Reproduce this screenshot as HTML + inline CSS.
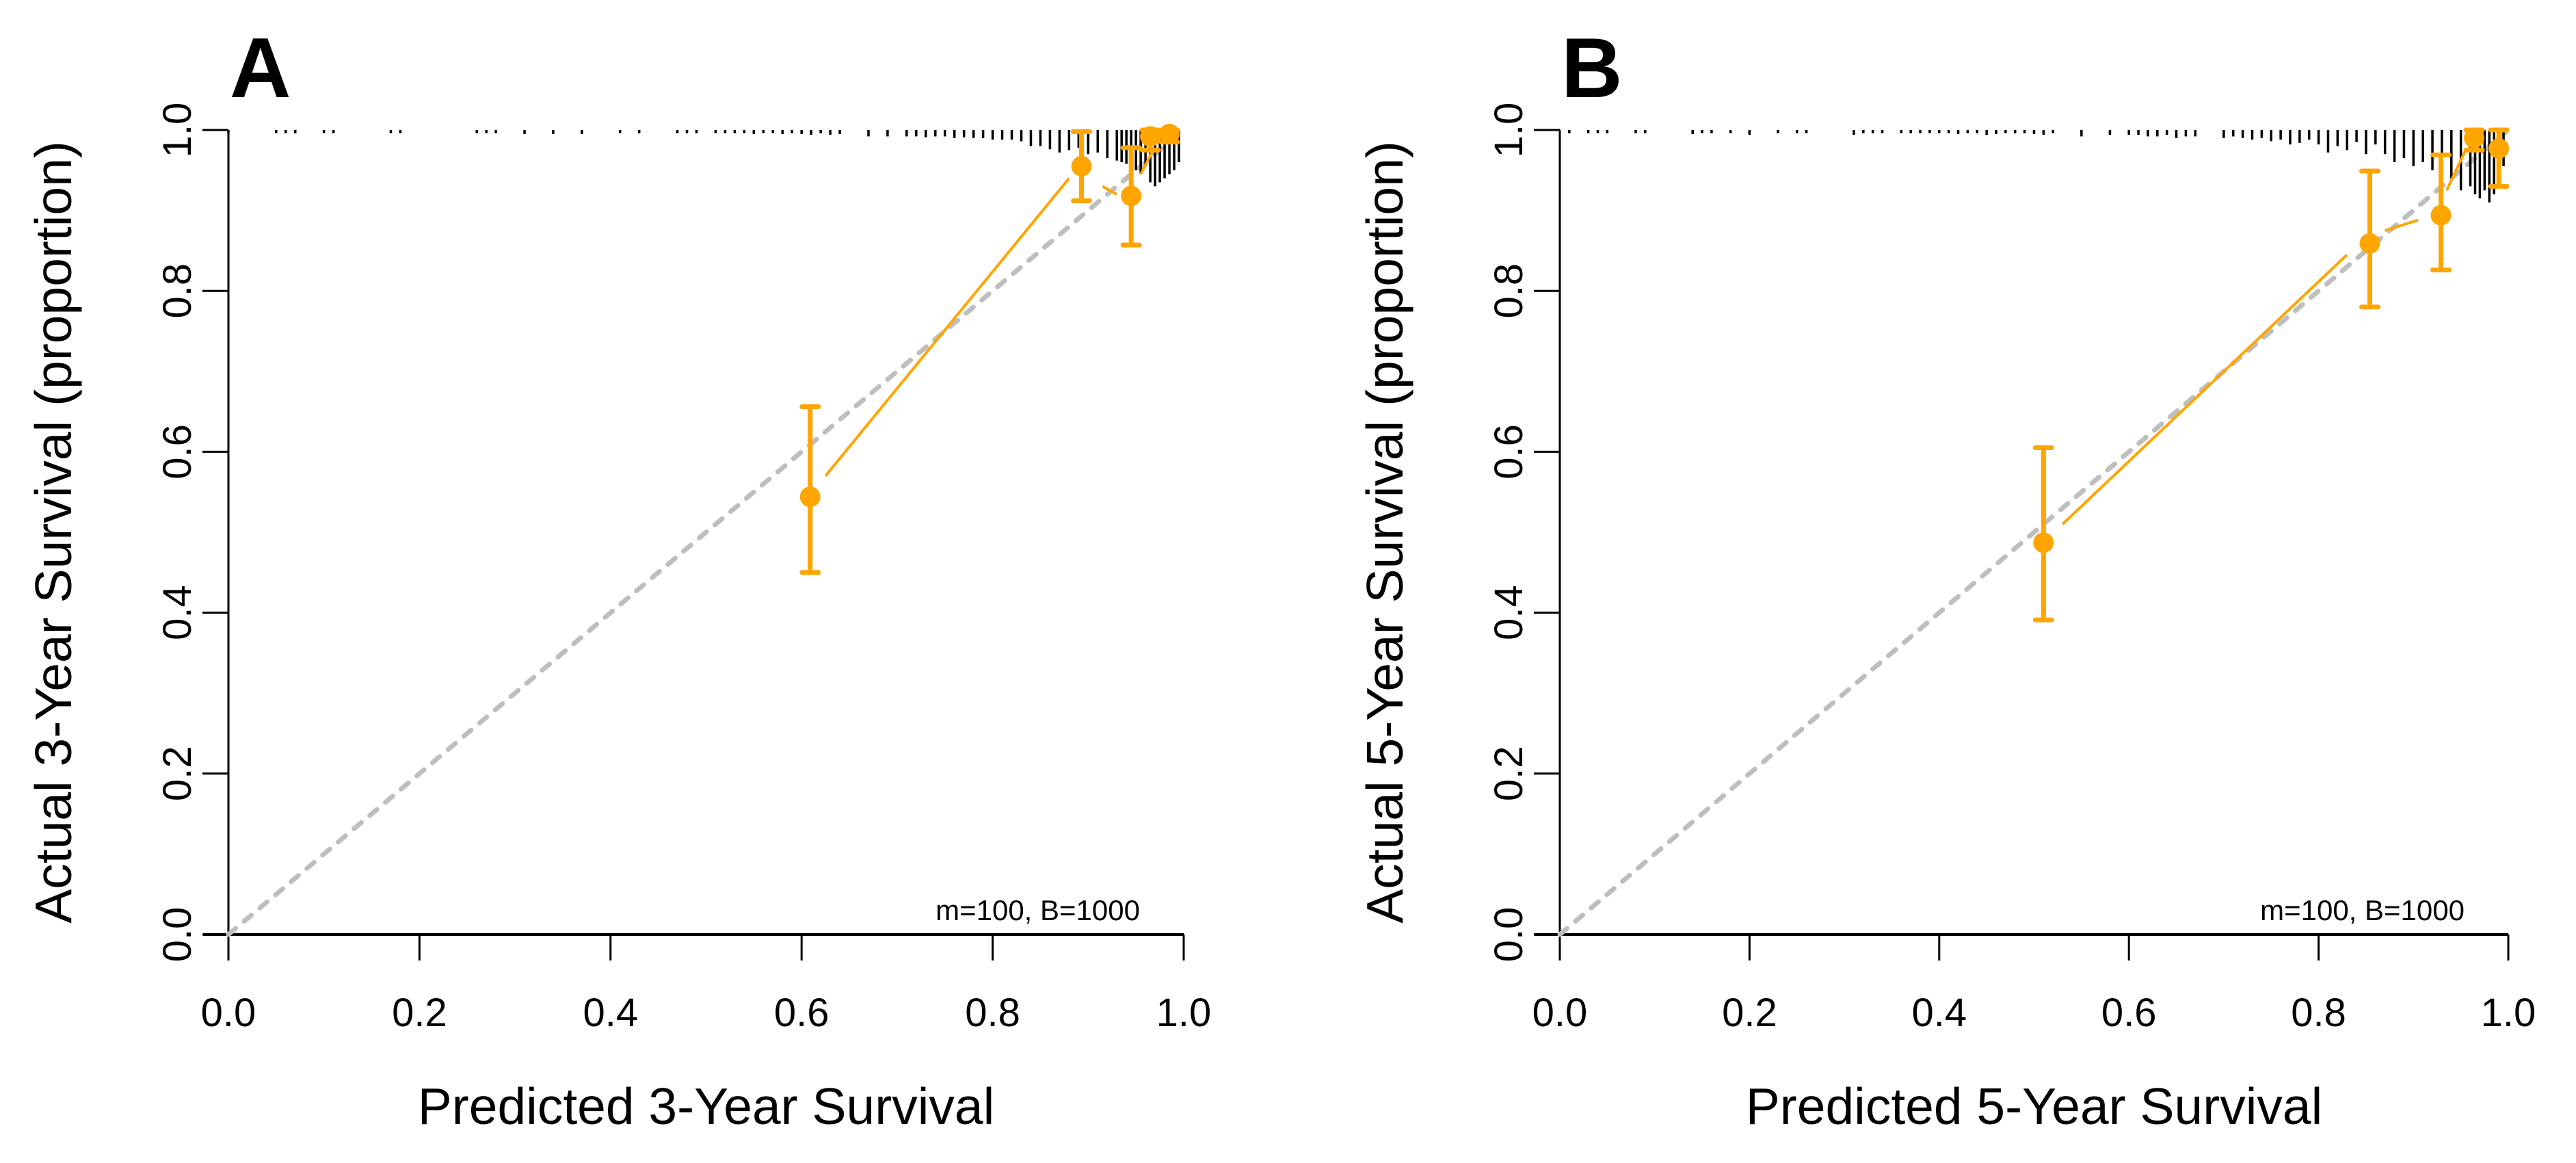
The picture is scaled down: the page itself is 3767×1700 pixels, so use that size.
<!DOCTYPE html>
<html><head><meta charset="utf-8"><style>
html,body{margin:0;padding:0;background:#fff;}
svg{display:block;font-family:"Liberation Sans",Arial,sans-serif;}
</style></head><body>
<svg id="chart" width="3767" height="1700" viewBox="0 0 3767 1700"></svg>
<script>
// ---- data ----
const panelLetters = ["A","B"];
const xTitles = ["Predicted 3-Year Survival","Predicted 5-Year Survival"];
const yTitles = ["Actual 3-Year Survival (proportion)","Actual 5-Year Survival (proportion)"];
const tickValues = [0,0.2,0.4,0.6,0.8,1.0];
const tickLabels = ["0.0","0.2","0.4","0.6","0.8","1.0"];
// panel A
const predA = [0.609,0.893,0.945,0.965,0.985];
const obsA = [0.544,0.955,0.918,0.992,0.995];
const loA = [0.45,0.912,0.857,0.975,0.985];
const hiA = [0.656,0.998,0.978,1.0,1.0];
const lineAx = [[0.625,0.88],[0.915,0.93],[0.955,0.968]];
const lineAy = [[0.57,0.94],[0.93,0.92],[0.945,0.975]];
// panel B
const predB = [0.51,0.854,0.929,0.964,0.99];
const obsB = [0.487,0.859,0.894,0.99,0.977];
const loB = [0.391,0.78,0.826,0.975,0.93];
const hiB = [0.605,0.949,0.969,1.0,1.0];
const lineBx = [[0.53,0.83],[0.87,0.905],[0.935,0.955]];
const lineBy = [[0.51,0.845],[0.875,0.888],[0.925,0.975]];
// rug (predicted value positions, tick length in proportion units)
const rugAx = [0.0,0.05,0.06,0.07,0.1,0.11,0.17,0.18,0.26,0.27,0.28,0.31,0.34,0.37,0.41,0.43,0.47,0.48,0.49,0.51,0.52,0.53,0.54,0.55,0.56,0.57,0.58,0.59,0.6,0.61,0.62,0.63,0.64,0.67,0.69,0.71,0.72,0.73,0.74,0.75,0.76,0.77,0.78,0.79,0.8,0.81,0.82,0.83,0.84,0.85,0.86,0.87,0.88,0.89,0.9,0.91,0.92,0.93,0.935,0.94,0.945,0.95,0.955,0.96,0.965,0.97,0.975,0.98,0.985,0.99,0.995];
const rugAl = [0.004,0.004,0.004,0.004,0.004,0.004,0.004,0.004,0.004,0.004,0.004,0.005,0.005,0.005,0.004,0.004,0.004,0.004,0.004,0.004,0.004,0.004,0.004,0.005,0.004,0.004,0.005,0.004,0.005,0.006,0.004,0.006,0.005,0.008,0.008,0.008,0.008,0.009,0.008,0.008,0.01,0.009,0.01,0.01,0.012,0.012,0.012,0.014,0.02,0.02,0.024,0.028,0.025,0.022,0.03,0.028,0.035,0.038,0.04,0.042,0.06,0.05,0.055,0.045,0.065,0.07,0.065,0.06,0.055,0.05,0.04];
const rugBx = [0.01,0.03,0.04,0.05,0.08,0.09,0.14,0.15,0.16,0.18,0.2,0.23,0.25,0.26,0.31,0.32,0.33,0.34,0.36,0.37,0.38,0.39,0.4,0.41,0.42,0.43,0.44,0.45,0.46,0.47,0.48,0.49,0.5,0.51,0.52,0.55,0.58,0.6,0.61,0.62,0.63,0.64,0.65,0.66,0.67,0.7,0.71,0.72,0.73,0.74,0.75,0.76,0.77,0.78,0.79,0.8,0.81,0.82,0.83,0.84,0.85,0.86,0.87,0.88,0.89,0.9,0.91,0.92,0.93,0.94,0.95,0.96,0.965,0.97,0.975,0.98,0.985,0.99,0.995];
const rugBl = [0.004,0.004,0.004,0.004,0.004,0.004,0.005,0.004,0.004,0.004,0.006,0.004,0.004,0.004,0.006,0.004,0.004,0.004,0.004,0.004,0.004,0.004,0.004,0.004,0.005,0.004,0.004,0.006,0.005,0.004,0.004,0.004,0.005,0.006,0.004,0.008,0.006,0.006,0.006,0.008,0.008,0.006,0.01,0.008,0.008,0.01,0.008,0.01,0.012,0.01,0.014,0.012,0.018,0.016,0.012,0.018,0.028,0.02,0.025,0.015,0.03,0.018,0.03,0.04,0.035,0.045,0.04,0.05,0.035,0.06,0.075,0.07,0.08,0.085,0.075,0.09,0.08,0.06,0.045];

const panels = [
 {x0:334,x1:1731,pred:predA,obs:obsA,lo:loA,hi:hiA,lx:lineAx,ly:lineAy,rx:rugAx,rl:rugAl},
 {x0:2281,x1:3668,pred:predB,obs:obsB,lo:loB,hi:hiB,lx:lineBx,ly:lineBy,rx:rugBx,rl:rugBl}
];
const Y0=1366, Y1=190, ORANGE="#FFA500";
const svg=document.getElementById('chart');
const NS="http://www.w3.org/2000/svg";
function mk(tag,attrs,parent,text){const e=document.createElementNS(NS,tag);for(const k in attrs)e.setAttribute(k,attrs[k]);if(text!==undefined)e.textContent=text;(parent||svg).appendChild(e);return e;}

panels.forEach((p,i)=>{
  const sx=v=>p.x0+v*(p.x1-p.x0);
  const sy=v=>Y0-v*(Y0-Y1);
  const g=mk('g',{});
  
  
  const L=mk('text',{x:p.x0+2,y:142,'font-size':124,'font-weight':'bold'},g,panelLetters[i]);
  
  
  const xa=mk('g',{},g);
  
  
  mk('line',{x1:p.x0-37,x2:p.x1,y1:Y0,y2:Y0,stroke:'#000','stroke-width':4},xa);
  tickValues.forEach((v,k)=>{
    mk('line',{x1:sx(v),x2:sx(v),y1:Y0,y2:Y0+38,stroke:'#000','stroke-width':3},xa);
    const t=mk('text',{x:sx(v),y:1500,'font-size':58,'text-anchor':'middle'},xa,tickLabels[k]);
    
    
  });
  const ya=mk('g',{},g);
  
  
  mk('line',{x1:p.x0,x2:p.x0,y1:Y0,y2:Y1,stroke:'#000','stroke-width':3},ya);
  tickValues.forEach((v,k)=>{
    mk('line',{x1:p.x0,x2:p.x0-38,y1:sy(v),y2:sy(v),stroke:'#000','stroke-width':3},ya);
    const t=mk('text',{x:0,y:0,'font-size':58,'text-anchor':'middle',transform:`translate(${p.x0-55},${sy(v)}) rotate(-90)`},ya,tickLabels[k]);
    
    
  });
  const xt=mk('text',{x:(p.x0+p.x1)/2,y:1643,'font-size':75,'text-anchor':'middle'},g,xTitles[i]);
  
  
  const yt=mk('text',{x:0,y:0,'font-size':75,'text-anchor':'middle',transform:`translate(${p.x0-230},${(Y0+Y1)/2}) rotate(-90)`},g,yTitles[i]);
  
  
  const d=mk('line',{x1:sx(0),y1:sy(0),x2:sx(1),y2:sy(1),stroke:'#BEBEBE','stroke-width':7,'stroke-dasharray':'14 16','stroke-linecap':'round'},g);
  
  
  p.rx.forEach((v,k)=>{
    const r=mk('line',{x1:sx(v),x2:sx(v),y1:Y1,y2:sy(1-p.rl[k]),stroke:'#000','stroke-width':3.5},g);
    
    
  });
  p.lx.forEach((xs,k)=>{
    const l=mk('line',{x1:sx(xs[0]),y1:sy(p.ly[k][0]),x2:sx(xs[1]),y2:sy(p.ly[k][1]),stroke:ORANGE,'stroke-width':4},g);
    
    
  });
  p.pred.forEach((v,k)=>{
    const e=mk('g',{},g);
    
    
    const cx=sx(v);
    mk('line',{x1:cx,x2:cx,y1:sy(p.lo[k]),y2:sy(p.hi[k]),stroke:ORANGE,'stroke-width':7},e);
    [p.lo[k],p.hi[k]].forEach(c=>mk('line',{x1:cx-12,x2:cx+12,y1:sy(c),y2:sy(c),stroke:ORANGE,'stroke-width':7,'stroke-linecap':'round'},e));
    mk('circle',{cx:cx,cy:sy(p.obs[k]),r:15,fill:ORANGE},e);
  });
  const note=mk('text',{x:p.x1-64,y:1345,'font-size':42,'text-anchor':'end'},g,'m=100, B=1000');
  
  
});
</script>
</body></html>
